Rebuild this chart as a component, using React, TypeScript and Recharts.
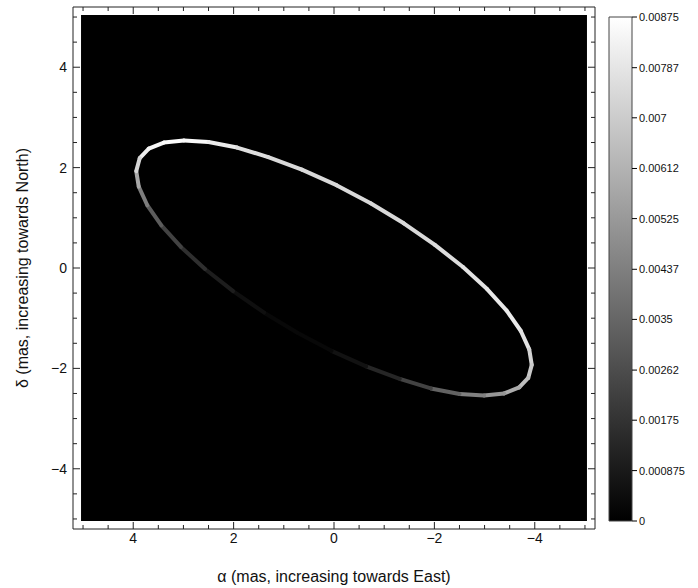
import React from 'react';
import { ComposedChart, Line, XAxis, YAxis, ReferenceArea, ReferenceLine } from 'recharts';

// points read along the ring (alpha, delta in mas) and their brightness (fraction of 0.00875)
const RING_ALPHA = [
  3.87, 3.69, 3.39, 2.99, 2.5, 1.93, 1.31, 0.64, -0.05, -0.73, -1.39, -2.01,
  -2.57, -3.05, -3.44, -3.72, -3.89, -3.94, -3.87, -3.69, -3.39, -2.99, -2.5, -1.93,
  -1.31, -0.64, 0.05, 0.73, 1.39, 2.01, 2.57, 3.05, 3.44, 3.72, 3.89, 3.94,
];
const RING_DELTA = [
  2.19, 2.38, 2.5, 2.54, 2.51, 2.4, 2.21, 1.96, 1.65, 1.29, 0.89, 0.46,
  0.02, -0.42, -0.85, -1.25, -1.62, -1.93, -2.19, -2.38, -2.5, -2.54, -2.51, -2.4,
  -2.21, -1.96, -1.65, -1.29, -0.89, -0.46, -0.02, 0.42, 0.85, 1.25, 1.62, 1.93,
];
const RING_LEVEL = [
  0.92, 0.95, 0.98, 1.0, 0.95, 0.9, 0.85, 0.85, 0.85, 0.85, 0.85, 0.85,
  0.88, 0.9, 0.92, 0.92, 0.85, 0.8, 0.78, 0.72, 0.62, 0.55, 0.45, 0.32,
  0.2, 0.1, 0.04, 0.02, 0.04, 0.08, 0.15, 0.22, 0.3, 0.42, 0.56, 0.75,
];

const MAJOR_TICKS = [-4, -2, 0, 2, 4];
const MINOR_TICKS = [-5, -4.5, -3.5, -3, -2.5, -1.5, -1, -0.5, 0.5, 1, 1.5, 2.5, 3, 3.5, 4.5, 5];

const CB_TICKS = [0, 0.000875, 0.00175, 0.00262, 0.0035, 0.00437, 0.00525, 0.00612, 0.007, 0.00787, 0.00875];
const CB_SPAN = [{ x: 0 }, { x: 1 }];

const FONT = '"Liberation Sans", Arial, Helvetica, sans-serif';
const LIM = 5.2;
const IMG = 5.04;

const gray = (v: number) => {
  const c = Math.round(Math.min(1, v) * 255);
  return `rgb(${c},${c},${c})`;
};

const fmt = (v: number) => (v < 0 ? `\u2212${-v}` : String(v));

const segments = RING_ALPHA.map((a, i) => {
  const j = (i + 1) % RING_ALPHA.length;
  return {
    level: (RING_LEVEL[i] + RING_LEVEL[j]) / 2,
    points: [
      { x: a, y: RING_DELTA[i] },
      { x: RING_ALPHA[j], y: RING_DELTA[j] },
    ],
  };
});

const frameTicks = [
  ...MAJOR_TICKS.map((v) => ({ v, len: 0.14 })),
  ...MINOR_TICKS.map((v) => ({ v, len: 0.08 })),
];

export default function App() {
  return (
    <div style={{ position: 'absolute', left: 0, top: 0, width: 698, height: 588, background: '#fff' }}>
      <ComposedChart width={610} height={588} margin={{ top: 7, right: 15, bottom: 0, left: 0 }}>
        <XAxis
          type="number"
          dataKey="x"
          domain={[-LIM, LIM]}
          reversed
          allowDataOverflow
          ticks={MAJOR_TICKS}
          interval={0}
          tickFormatter={fmt}
          tickLine={false}
          axisLine={false}
          tickSize={0}
          tickMargin={4}
          height={59}
          tick={{ fontSize: 14, fill: '#111', fontFamily: FONT }}
          label={{
            value: 'α (mas, increasing towards East)',
            position: 'insideBottom',
            offset: 6,
            style: { fontSize: 16, fill: '#111', fontFamily: FONT },
          }}
        />
        <YAxis
          type="number"
          dataKey="y"
          domain={[-LIM, LIM]}
          allowDataOverflow
          ticks={MAJOR_TICKS}
          interval={0}
          tickFormatter={fmt}
          tickLine={false}
          axisLine={false}
          tickSize={0}
          tickMargin={6}
          width={73}
          tick={{ fontSize: 14, fill: '#111', fontFamily: FONT }}
          label={{
            value: 'δ (mas, increasing towards North)',
            angle: -90,
            position: 'insideLeft',
            offset: 22,
            style: { fontSize: 16, fill: '#111', fontFamily: FONT, textAnchor: 'middle' },
          }}
        />
        <ReferenceArea x1={-IMG} x2={IMG} y1={-IMG} y2={IMG} fill="#000" fillOpacity={1} stroke="none" />
        <ReferenceArea x1={-LIM} x2={LIM} y1={-LIM} y2={LIM} fill="none" stroke="#222" />
        {frameTicks.map((t) => (
          <React.Fragment key={`t${t.v}`}>
            <ReferenceLine segment={[{ x: t.v, y: -LIM }, { x: t.v, y: -LIM + t.len }]} stroke="#222" />
            <ReferenceLine segment={[{ x: t.v, y: LIM }, { x: t.v, y: LIM - t.len }]} stroke="#222" />
            <ReferenceLine segment={[{ x: LIM, y: t.v }, { x: LIM - t.len, y: t.v }]} stroke="#222" />
            <ReferenceLine segment={[{ x: -LIM, y: t.v }, { x: -LIM + t.len, y: t.v }]} stroke="#222" />
          </React.Fragment>
        ))}
        {segments.map((s, i) => (
          <Line
            key={`seg${i}`}
            data={s.points}
            dataKey="y"
            type="linear"
            stroke={gray(s.level)}
            strokeWidth={4}
            strokeLinecap="round"
            dot={false}
            activeDot={false}
            legendType="none"
            isAnimationActive={false}
          />
        ))}
      </ComposedChart>

      <ComposedChart
        width={98}
        height={588}
        data={CB_SPAN}
        margin={{ top: 17, right: 0, bottom: 67, left: 9 }}
        style={{ position: 'absolute', left: 600, top: 0 }}
      >
        <defs>
          <linearGradient id="cbGrad" x1="0" y1="1" x2="0" y2="0">
            <stop offset="0" stopColor="#000" />
            <stop offset="1" stopColor="#fff" />
          </linearGradient>
        </defs>
        <XAxis type="number" dataKey="x" domain={[0, 1]} hide />
        <YAxis
          type="number"
          orientation="right"
          domain={[0, 0.00875]}
          allowDataOverflow
          ticks={CB_TICKS}
          interval={0}
          width={66}
          axisLine={false}
          tickSize={5}
          tickMargin={2}
          tickLine={{ stroke: '#000' }}
          tick={{ fontSize: 11, fill: '#111', fontFamily: FONT }}
        />
        <ReferenceArea
          x1={0}
          x2={1}
          y1={0}
          y2={0.00875}
          fill="url(#cbGrad)"
          fillOpacity={1}
          stroke="#444"
          ifOverflow="visible"
        />
      </ComposedChart>
    </div>
  );
}
